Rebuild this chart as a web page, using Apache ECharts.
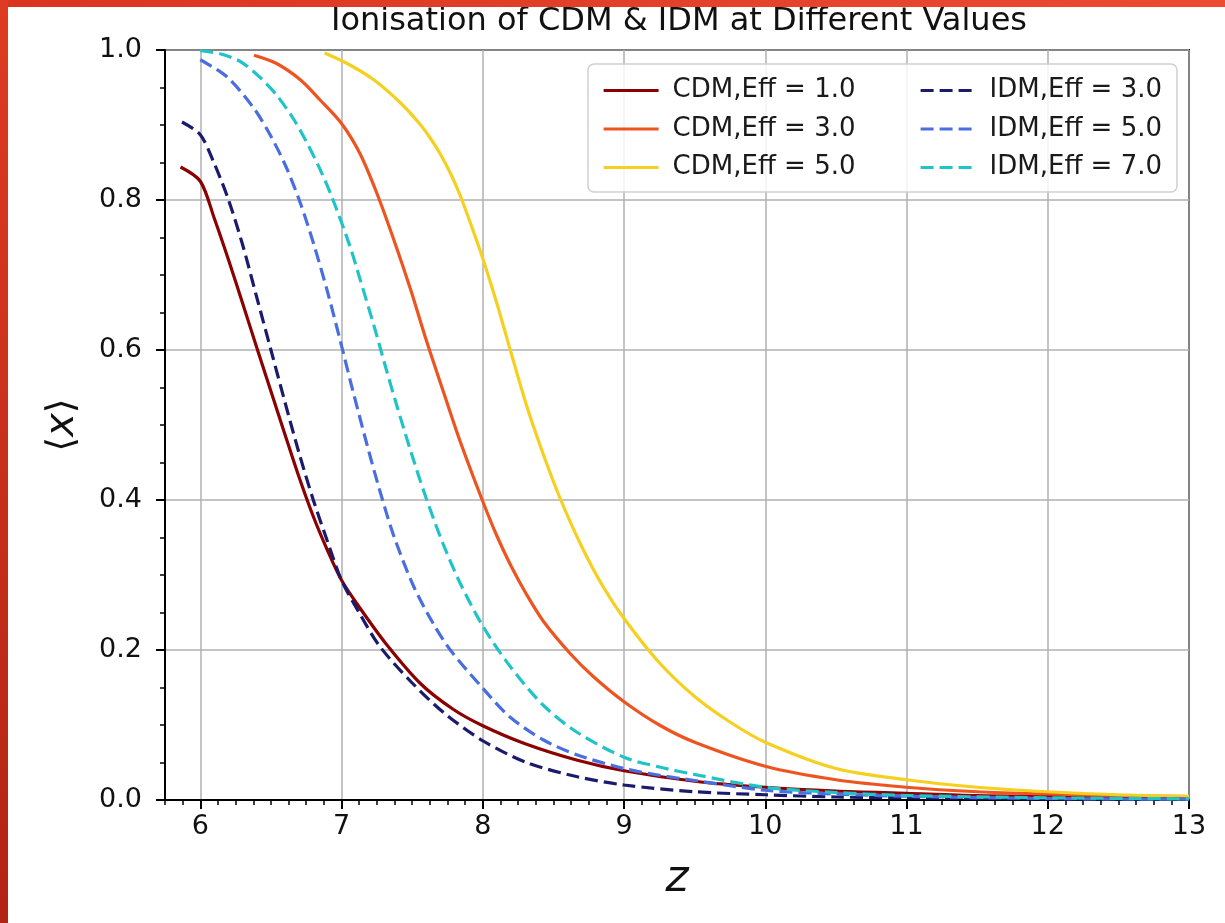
<!DOCTYPE html>
<html><head><meta charset="utf-8">
<script src="https://cdn.jsdelivr.net/npm/echarts@6.0.0/dist/echarts.min.js"></script>
<style>
html,body{margin:0;padding:0;background:#fff;overflow:hidden;}
#chart{position:absolute;left:0;top:0;width:1225px;height:923px;}
#bt{position:absolute;left:0;top:0;width:1225px;height:7px;background:linear-gradient(90deg,#d93420,#ec4b30);z-index:5}
#bl{position:absolute;left:0;top:0;width:8px;height:923px;background:linear-gradient(180deg,#de3b22,#b22414);z-index:6}
</style></head>
<body><div id="chart"></div><div id="bt"></div><div id="bl"></div>
<script>
var FONT = 'DejaVu Sans';

var cdm1Z = [5.86, 6.0, 6.1, 6.2, 6.3, 6.4, 6.5, 6.6, 6.7, 6.8, 6.9, 7.0, 7.13, 7.32, 7.56, 7.79, 8.0, 8.3, 8.67, 9.0, 9.5, 10, 10.5, 11, 11.5, 12, 12.5, 13];
var cdm1X = [0.844, 0.825, 0.775, 0.72, 0.662, 0.603, 0.545, 0.487, 0.43, 0.378, 0.333, 0.293, 0.256, 0.207, 0.155, 0.121, 0.099, 0.075, 0.053, 0.039, 0.025, 0.017, 0.012, 0.009, 0.006, 0.005, 0.004, 0.003];

var cdm3Z = [6.38, 6.54, 6.71, 6.85, 7.0, 7.13, 7.25, 7.37, 7.49, 7.6, 7.72, 7.84, 8.0, 8.1, 8.2, 8.31, 8.43, 8.62, 8.78, 9.0, 9.25, 9.5, 10, 10.5, 11, 11.5, 12, 12.5, 13];
var cdm3X = [0.993, 0.982, 0.96, 0.933, 0.902, 0.862, 0.809, 0.747, 0.68, 0.613, 0.545, 0.478, 0.398, 0.352, 0.312, 0.274, 0.238, 0.195, 0.165, 0.131, 0.100, 0.077, 0.045, 0.027, 0.017, 0.011, 0.008, 0.006, 0.0045];

var cdm5Z = [6.88, 7.04, 7.23, 7.42, 7.56, 7.63, 7.7, 7.77, 7.84, 7.93, 8.0, 8.1, 8.19, 8.31, 8.43, 8.55, 8.7, 8.85, 9.0, 9.25, 9.5, 9.75, 10, 10.5, 11, 11.5, 12, 12.5, 13];
var cdm5X = [0.996, 0.982, 0.96, 0.929, 0.900, 0.882, 0.861, 0.836, 0.806, 0.76, 0.722, 0.662, 0.603, 0.526, 0.46, 0.401, 0.338, 0.285, 0.242, 0.183, 0.138, 0.104, 0.077, 0.042, 0.027, 0.017, 0.011, 0.007, 0.005];

var idm3Z = [5.87, 6.0, 6.1, 6.2, 6.3, 6.4, 6.5, 6.6, 6.7, 6.8, 6.9, 7.0, 7.13, 7.27, 7.49, 7.72, 8.0, 8.31, 8.67, 9.0, 9.5, 10, 10.5, 11, 12, 13];
var idm3X = [0.904, 0.887, 0.848, 0.80, 0.74, 0.67, 0.60, 0.53, 0.462, 0.40, 0.345, 0.293, 0.248, 0.205, 0.158, 0.117, 0.079, 0.05, 0.031, 0.02, 0.011, 0.007, 0.004, 0.003, 0.0015, 0.001];

var idm5Z = [6.0, 6.19, 6.38, 6.5, 6.61, 6.71, 6.8, 6.9, 6.99, 7.07, 7.18, 7.27, 7.37, 7.51, 7.65, 7.77, 8.0, 8.19, 8.43, 8.67, 9.0, 9.25, 9.5, 10, 10.5, 11, 12, 13];
var idm5X = [0.987, 0.964, 0.922, 0.885, 0.843, 0.795, 0.743, 0.678, 0.613, 0.553, 0.474, 0.413, 0.352, 0.285, 0.235, 0.200, 0.149, 0.111, 0.08, 0.06, 0.042, 0.033, 0.026, 0.013, 0.008, 0.005, 0.002, 0.001];

var idm7Z = [6.0, 6.14, 6.28, 6.42, 6.54, 6.66, 6.75, 6.85, 6.94, 7.06, 7.13, 7.23, 7.32, 7.38, 7.49, 7.6, 7.72, 7.84, 8.0, 8.19, 8.43, 8.67, 9.0, 9.25, 9.5, 10, 10.5, 11, 12, 13];
var idm7X = [0.999, 0.995, 0.985, 0.964, 0.940, 0.908, 0.878, 0.840, 0.80, 0.738, 0.695, 0.632, 0.572, 0.533, 0.465, 0.402, 0.341, 0.289, 0.232, 0.179, 0.126, 0.09, 0.057, 0.044, 0.034, 0.017, 0.010, 0.006, 0.003, 0.0015];

var seriesNames = ['CDM,Eff = 1.0', 'CDM,Eff = 3.0', 'CDM,Eff = 5.0', 'IDM,Eff = 3.0', 'IDM,Eff = 5.0', 'IDM,Eff = 7.0'];
var seriesColors = ['#8b0000', '#ee5420', '#f5d020', '#1b1b6e', '#4a6ee0', '#20c4c8'];
var seriesDashed = [false, false, false, true, true, true];
var seriesZ = [cdm1Z, cdm3Z, cdm5Z, idm3Z, idm5Z, idm7Z];
var seriesX = [cdm1X, cdm3X, cdm5X, idm3X, idm5X, idm7X];

var xMajorTicks = [6, 7, 8, 9, 10, 11, 12, 13];
var yTickLabels = ['0.0', '0.2', '0.4', '0.6', '0.8', '1.0'];

var xMinorTicks = [];
for (var t = 5.75; t <= 13.0001; t += 0.125) {
  if (Math.abs(t - Math.round(t)) > 1e-6) xMinorTicks.push(+t.toFixed(3));
}

function pairs(zs, xs) { return zs.map(function (z, i) { return [z, xs[i]]; }); }

var series = seriesNames.map(function (n, i) {
  return {
    name: n, type: 'line', symbol: 'none', smooth: 0.3,
    data: pairs(seriesZ[i], seriesX[i]),
    itemStyle: { color: seriesColors[i] },
    lineStyle: { color: seriesColors[i], width: 3.2, type: seriesDashed[i] ? [13, 6] : 'solid' },
    z: 2 + i * 0.01, animation: false
  };
});

var legendText = { fontSize: 26, fontFamily: FONT, color: '#1a1a1a', padding: [0, 0, 0, 9], lineHeight: 27 };
function makeLegend(names, left) {
  return {
    data: names, orient: 'vertical', left: left, top: 72, itemWidth: 55, itemHeight: 14, itemGap: 11.5,
    textStyle: legendText, z: 20, selectedMode: false,
    itemStyle: { opacity: 0, borderWidth: 0 },
    lineStyle: { width: 3.2 }
  };
}

var chart = echarts.init(document.getElementById('chart'), null, { renderer: 'canvas' });
chart.setOption({
  backgroundColor: '#fff',
  animation: false,
  title: {
    text: 'Ionisation of CDM & IDM at Different Values',
    left: 331, top: 6, padding: 0,
    textStyle: { fontSize: 32, fontWeight: 'normal', fontFamily: FONT, color: '#111' }
  },
  grid: { left: 165, right: 36, top: 50, bottom: 123, show: true, borderColor: '#000', borderWidth: 2, backgroundColor: 'transparent' },
  legend: [makeLegend(seriesNames.slice(0, 3), 597), makeLegend(seriesNames.slice(3), 914)],
  graphic: [{
    type: 'rect', z: 10, zlevel: 0,
    shape: { x: 588, y: 64, width: 589, height: 128, r: 6 },
    style: { fill: 'rgba(255,255,255,0.85)', stroke: '#d0d0d0', lineWidth: 1.5 }
  }],
  xAxis: [
    {
      type: 'value', min: 5.75, max: 13, position: 'bottom',
      axisLine: { show: true, onZero: false, lineStyle: { color: '#000', width: 2 } },
      axisTick: { show: true, length: 9, lineStyle: { color: '#000', width: 2 }, customValues: xMajorTicks },
      axisLabel: { customValues: xMajorTicks, fontSize: 27, fontFamily: FONT, color: '#111', margin: 13 },
      splitLine: { show: true, lineStyle: { color: '#b0b0b0', width: 1.5 } },
      name: 'z', nameLocation: 'middle', nameGap: 58,
      nameTextStyle: { fontSize: 44, fontStyle: 'italic', fontFamily: FONT, color: '#111' }
    },
    {
      type: 'value', min: 5.75, max: 13, position: 'bottom',
      axisLine: { show: false },
      axisTick: { show: true, length: 5, lineStyle: { color: '#000', width: 1.5 }, customValues: xMinorTicks },
      axisLabel: { show: false },
      splitLine: { show: false }
    }
  ],
  yAxis: {
    type: 'value', min: 0, max: 1, interval: 0.2,
    axisLine: { show: true, onZero: false, lineStyle: { color: '#000', width: 2 } },
    axisTick: { show: true, length: 9, lineStyle: { color: '#000', width: 2 } },
    minorTick: { show: true, splitNumber: 4, length: 5, lineStyle: { color: '#000', width: 1.5 } },
    axisLabel: {
      fontSize: 27, fontFamily: FONT, color: '#111', margin: 23,
      formatter: function (v) { return yTickLabels[Math.round(v / 0.2)]; }
    },
    splitLine: { show: true, lineStyle: { color: '#b0b0b0', width: 1.5 } },
    name: '{a|⟨}{b|x}{a|⟩}', nameLocation: 'middle', nameRotate: 90, nameGap: 82,
    nameTextStyle: {
      rich: {
        a: { fontSize: 38, fontFamily: FONT, color: '#111' },
        b: { fontSize: 40, fontStyle: 'italic', fontFamily: FONT, color: '#111' }
      }
    }
  },
  series: series
});
</script></body></html>
